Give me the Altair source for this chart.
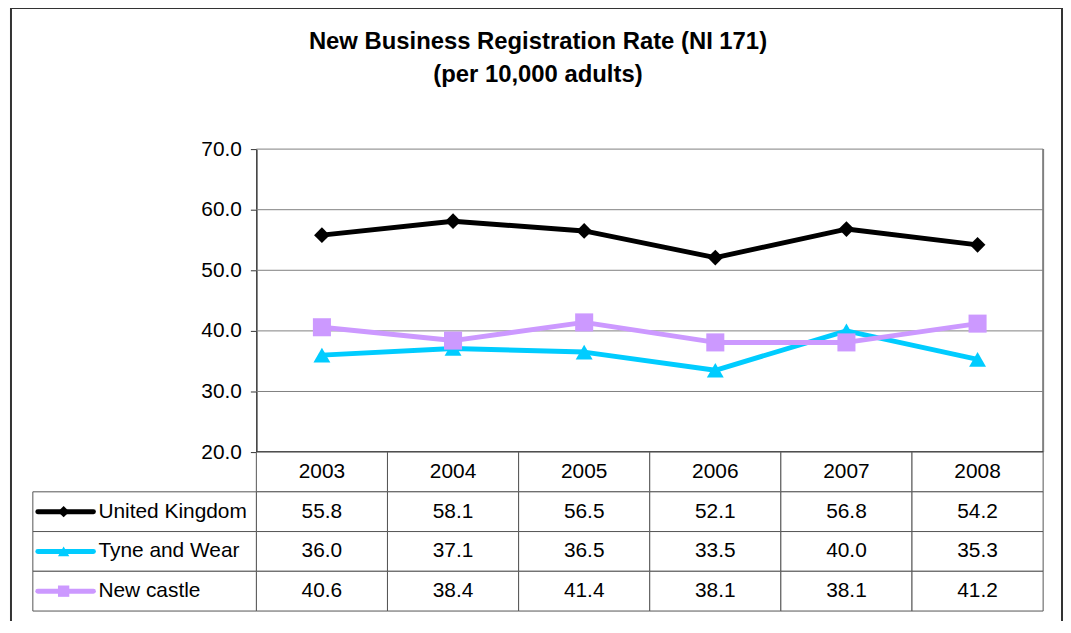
import altair as alt
import pandas as pd

# ---- data ----
years = ["2003", "2004", "2005", "2006", "2007", "2008"]
series = ["United Kingdom", "Tyne and Wear", "New castle"]
uk = [55.8, 58.1, 56.5, 52.1, 56.8, 54.2]
tyne_wear = [36.0, 37.1, 36.5, 33.5, 40.0, 35.3]
newcastle = [40.6, 38.4, 41.4, 38.1, 38.1, 41.2]
y_ticks = [20, 30, 40, 50, 60, 70]
colors = ["#000000", "#00CCFF", "#CC99FF"]
shapes = ["diamond", "triangle-up", "square"]
marker_sizes = [250, 330, 210]
title_lines = ["New Business Registration Rate (NI 171)", "(per 10,000 adults)"]

values = {"United Kingdom": uk, "Tyne and Wear": tyne_wear, "New castle": newcastle}

# drawing order: Tyne and Wear under New castle, UK on top
draw_order = ["Tyne and Wear", "New castle", "United Kingdom"]
line_rows = []
for s in draw_order:
    for yr, v in zip(years, values[s]):
        line_rows.append({"series": s, "year": yr, "value": v})
line_df = pd.DataFrame(line_rows)

table_rows = [{"row": "Year", "year": yr, "label": yr} for yr in years]
for s in series:
    for yr, v in zip(years, values[s]):
        table_rows.append({"row": s, "year": yr, "label": f"{v:.1f}"})
table_df = pd.DataFrame(table_rows)

legend_df = pd.DataFrame({"series": series})
grid_df = pd.DataFrame({"v": y_ticks})
one_df = pd.DataFrame({"a": [0]})

# ---- layout constants ----
W = 1017      # whole drawing width (legend column + plot)
LW = 225      # legend column width
PH = 305      # plot height
TH = 465      # plot + table height
FONT = "Liberation Sans"
FS = 21

xs = alt.Scale(domain=years, range=[LW, W], paddingInner=0, paddingOuter=0)
ys = alt.Scale(domain=[20, 70], range=[PH, 0], nice=False, zero=False)
row_dom = ["Year"] + series
rs = alt.Scale(domain=row_dom, range=[PH, TH], paddingInner=0, paddingOuter=0)
cs = alt.Scale(domain=series, range=colors)
ss = alt.Scale(domain=series, range=shapes)
zs = alt.Scale(domain=series, range=marker_sizes)

X = alt.X("year:N", scale=xs, axis=None)

frame = alt.Chart(one_df).mark_rect(fillOpacity=0, stroke="#333333", strokeWidth=2).encode(
    x=alt.value(-22), x2=alt.value(1036), y=alt.value(-142), y2=alt.value(TH + 40)
)

grid = alt.Chart(grid_df).mark_rule(color="#808080", strokeWidth=1).encode(
    y=alt.Y("v:Q", scale=ys,
            axis=alt.Axis(values=y_ticks, format=".1f", offset=-LW, grid=False,
                          domainColor="#333333", domainWidth=1.5,
                          tickColor="#333333", tickSize=6, tickWidth=1,
                          labelFont=FONT, labelFontSize=FS, labelColor="black",
                          labelPadding=9, title=None)),
    x=alt.value(LW), x2=alt.value(W),
)

right_edge = alt.Chart(one_df).mark_rule(color="#808080", strokeWidth=2).encode(
    x=alt.value(W), y=alt.value(0), y2=alt.value(PH)
)
bottom_edge = alt.Chart(one_df).mark_rule(color="#222222", strokeWidth=1.5).encode(
    x=alt.value(LW), x2=alt.value(W), y=alt.value(PH)
)

lines = alt.Chart(line_df).mark_line(strokeWidth=5, strokeJoin="round").encode(
    x=X,
    y=alt.Y("value:Q", scale=ys, axis=None),
    color=alt.Color("series:N", scale=cs, legend=None),
)
points = alt.Chart(line_df).mark_point(filled=True, opacity=1).encode(
    x=X,
    y=alt.Y("value:Q", scale=ys, axis=None),
    color=alt.Color("series:N", scale=cs, legend=None),
    shape=alt.Shape("series:N", scale=ss, legend=None),
    size=alt.Size("series:N", scale=zs, legend=None),
)

cells = alt.Chart(table_df).mark_rect(fill="white", stroke="#555555", strokeWidth=1).encode(
    x=X, y=alt.Y("row:N", scale=rs, axis=None)
)
cell_text = alt.Chart(table_df).mark_text(font=FONT, fontSize=FS, color="black").encode(
    x=X, y=alt.Y("row:N", scale=rs, axis=None), text="label:N"
)

leg_cells = alt.Chart(legend_df).mark_rect(fill="white", stroke="#555555", strokeWidth=1).encode(
    x=alt.value(0), x2=alt.value(LW), y=alt.Y("series:N", scale=rs, axis=None)
)
LY = alt.Y("series:N", scale=rs, axis=None, bandPosition=0.5)
leg_lines = alt.Chart(legend_df).mark_rule(strokeWidth=5, strokeCap="round").encode(
    x=alt.value(5), x2=alt.value(61), y=LY,
    color=alt.Color("series:N", scale=cs, legend=None),
)
leg_marks = alt.Chart(legend_df).mark_point(filled=True, opacity=1, size=130).encode(
    x=alt.value(31), y=LY,
    color=alt.Color("series:N", scale=cs, legend=None),
    shape=alt.Shape("series:N", scale=ss, legend=None),
)
leg_text = alt.Chart(legend_df).mark_text(font=FONT, fontSize=FS, color="black", align="left").encode(
    x=alt.value(66), y=LY, text="series:N"
)

chart = alt.layer(
    frame, grid, right_edge, lines, points, bottom_edge,
    cells, cell_text, leg_cells, leg_lines, leg_marks, leg_text
).resolve_scale(y="independent").properties(
    width=W, height=TH,
    title=alt.TitleParams(text=title_lines, font=FONT, fontSize=24, fontWeight="bold",
                          anchor="middle", frame="group", offset=-80, lineHeight=33,
                          color="black"),
    padding={"left": 25, "top": 140, "right": 20, "bottom": 8},
    autosize=alt.AutoSizeParams(type="none"),
).configure(background="white").configure_view(stroke=None)

chart.save("out.html", embed_options={"renderer": "svg", "actions": False})
